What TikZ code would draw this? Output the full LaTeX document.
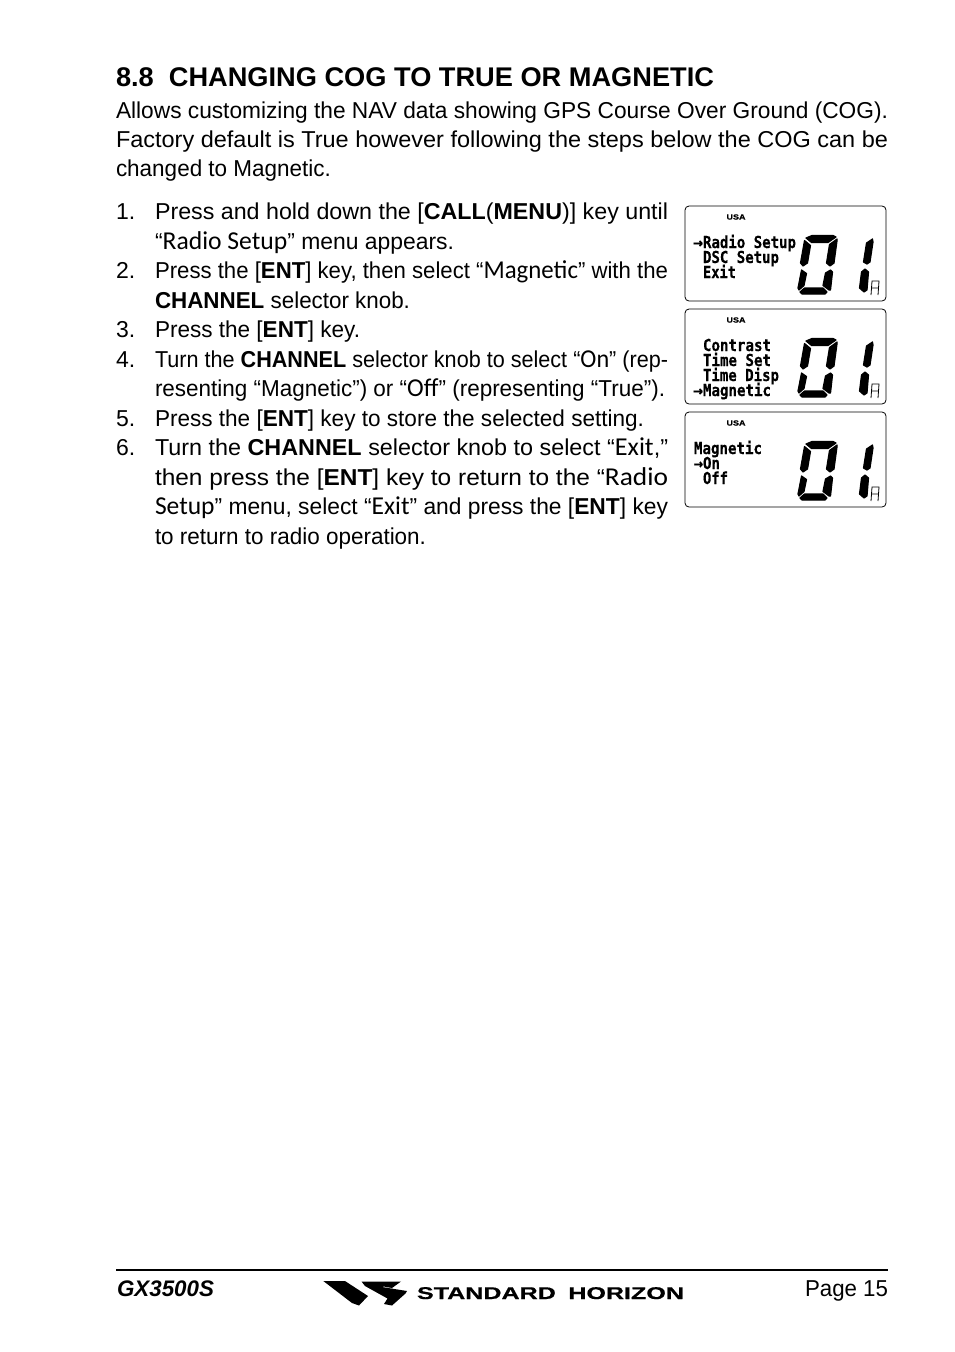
\documentclass[tikz,border=0pt]{standalone}
\usepackage{fontspec}
\usepackage{graphicx}
\setmainfont{Liberation Sans}
\newfontfamily\lcdmono[FakeBold=0.4]{DejaVu Sans Mono Bold}
\newfontfamily\logofont[FakeBold=0.5]{Liberation Sans Bold}
\newfontfamily\thinw{Carlito}[Scale=1.12]
\newcommand{\bodysize}{\fontsize{23}{27}\selectfont}
\newcommand{\fit}[2]{\resizebox{#1pt}{\height}{#2}}
\newcommand{\lw}[1]{{\thinw #1}}
\tikzset{
  txt/.style={anchor=base west,inner sep=0pt,outer sep=0pt,font=\bodysize},
  head/.style={anchor=base west,inner sep=0pt,outer sep=0pt,font=\fontsize{27}{30}\selectfont\bfseries},
  panel/.style={draw=black,line width=0.8pt,rounded corners=4pt},
  seg/.style={fill=black,draw=black,line width=1.2pt,line join=round},
  lcd/.style={anchor=base west,inner sep=0pt,outer sep=0pt,font=\fontsize{16.5}{18}\selectfont\lcdmono},
  usa/.style={anchor=center,inner sep=0pt,font=\fontsize{7.5}{8}\selectfont\logofont},
  thinseg/.style={draw=black,line width=0.8pt,fill=none}
}
\newcommand{\lcddigits}{%
  \filldraw[seg] (127,29.5)--(148,29.5)--(151,31)--(143,36.5)--(126.5,36.5)--(121,32)--cycle;
  \filldraw[seg] (119.5,34.5)--(125.5,39.5)--(122.5,57)--(118,60)--(115.5,57)--cycle;
  \filldraw[seg] (152,33)--(152,35)--(149,57)--(145,60)--(141.5,57)--(144.5,38.5)--cycle;
  \filldraw[seg] (116.5,64)--(121.5,67.5)--(119,79.5)--(114,84)--(113,82)--cycle;
  \filldraw[seg] (145.5,64)--(147.5,66)--(145.5,84)--(144,84)--(138,79.5)--(140.5,67)--cycle;
  \filldraw[seg] (115,86)--(119.5,82)--(138,82)--(142,86)--(140,88)--(117,88)--cycle;
  \filldraw[seg] (187.5,33)--(188,36)--(185,56)--(182,58)--(178.5,56)--(181.5,37)--cycle;
  \filldraw[seg] (180,63)--(183.5,66)--(182,84)--(179,86)--(174.5,82)--(176.5,66)--cycle;
  \draw[thinseg] (186,89)--(187,75)--(194,75)--(193,89) (186.5,82)--(193.5,82);
}
\begin{document}
\begin{tikzpicture}[x=1pt,y=-1pt]
\useasboundingbox (0,0) rectangle (954,1352);
\node[head] (h) at (116,86) {\fit{598}{8.8\ \ CHANGING COG TO TRUE OR MAGNETIC}};
\node[txt] (p1) at (116,118) {\fit{772}{Allows customizing the NAV data showing GPS Course Over Ground (COG).}};
\node[txt] (p2) at (116,147.5) {\fit{772}{Factory default is True however following the steps below the COG can be}};
\node[txt] (p3) at (116,176.5) {\fit{215}{changed to Magnetic.}};

\node[txt] (n1) at (116,219.5) {1.};
\node[txt] (n2) at (116,278.5) {2.};
\node[txt] (n3) at (116,337.5) {3.};
\node[txt] (n4) at (116,367) {4.};
\node[txt] (n5) at (116,426) {5.};
\node[txt] (n6) at (116,455.5) {6.};

\node[txt] (l1) at (155,219.5) {\fit{513}{Press and hold down the [\textbf{CALL}(\textbf{MENU})] key until}};
\node[txt] (l2) at (155,249) {\fit{299}{“\lw{Radio Setup}” menu appears.}};
\node[txt] (l3) at (155,278.5) {\fit{513}{Press the [\textbf{ENT}] key, then select “\lw{Magnetic}” with the}};
\node[txt] (l4) at (155,308) {\fit{255}{\textbf{CHANNEL} selector knob.}};
\node[txt] (l5) at (155,337.5) {\fit{205}{Press the [\textbf{ENT}] key.}};
\node[txt] (l6) at (155,367) {\fit{513}{Turn the \textbf{CHANNEL} selector knob to select “\lw{On}” (rep-}};
\node[txt] (l7) at (155,396.5) {\fit{510}{resenting “Magnetic”) or “\lw{Off}” (representing “True”).}};
\node[txt] (l8) at (155,426) {\fit{489}{Press the [\textbf{ENT}] key to store the selected setting.}};
\node[txt] (l9) at (155,455.5) {\fit{513}{Turn the \textbf{CHANNEL} selector knob to select “\lw{Exit},”}};
\node[txt] (l10) at (155,485) {\fit{513}{then press the [\textbf{ENT}] key to return to the “\lw{Radio}}};
\node[txt] (l11) at (155,514.5) {\fit{513}{\lw{Setup}” menu, select “\lw{Exit}” and press the [\textbf{ENT}] key}};
\node[txt] (l12) at (155,544.5) {\fit{271}{to return to radio operation.}};

% LCD panel 1
\begin{scope}[shift={(685,206)}]
  \draw[panel] (0,0) rectangle (201,95);
  \node[usa] (u1) at (51,11) {\fit{19}{USA}};
  \node[lcd] (a1) at (8,42) {\fit{10}{→}};
  \node[lcd] (a1t) at (18,42) {\fit{93}{Radio Setup}};
  \node[lcd] (a1u) at (18,57) {\fit{76}{DSC Setup}};
  \node[lcd] (a1v) at (18,72) {\fit{33}{Exit}};
  \lcddigits
\end{scope}
% LCD panel 2
\begin{scope}[shift={(685,309)}]
  \draw[panel] (0,0) rectangle (201,95);
  \node[usa] (u2) at (51,11) {\fit{19}{USA}};
  \node[lcd] (b1) at (18,42) {\fit{68}{Contrast}};
  \node[lcd] (b2) at (18,57) {\fit{68}{Time Set}};
  \node[lcd] (b3) at (18,72) {\fit{76}{Time Disp}};
  \node[lcd] (b4a) at (8,87) {\fit{10}{→}};
  \node[lcd] (b4) at (18,87) {\fit{68}{Magnetic}};
  \lcddigits
\end{scope}
% LCD panel 3
\begin{scope}[shift={(685,412)}]
  \draw[panel] (0,0) rectangle (201,95);
  \node[usa] (u3) at (51,11) {\fit{19}{USA}};
  \node[lcd] (c1) at (9,42) {\fit{68}{Magnetic}};
  \node[lcd] (c2a) at (9,57) {\fit{9}{→}};
  \node[lcd] (c2) at (18,57) {\fit{17}{On}};
  \node[lcd] (c3) at (18,72) {\fit{25}{Off}};
  \lcddigits
\end{scope}

% footer
\fill[black] (116,1269) rectangle (888,1271);
\node[txt,font=\fontsize{22.5}{26}\selectfont\bfseries\itshape] (gx) at (117,1296.5) {\fit{97}{GX3500S}};
\node[txt] (pg) at (805,1296.5) {\fit{83}{Page 15}};
% logo
\fill (323.3,1281) -- (345,1281) -- (368,1296) -- (359,1305.5) -- (352,1303) -- cycle;
\fill (361.5,1281.5) -- (401,1281.5) -- (392,1288) -- (384,1286.5) -- (382,1287) -- (407,1291) -- (405.5,1293.5) -- (392,1305.5) -- (384,1304) -- (387.5,1298.5) -- (365,1286) -- cycle;
\node[txt,font=\fontsize{17}{18}\selectfont\logofont] (sh) at (417,1299) {\fit{267}{STANDARD\hspace{0.5em}HORIZON}};
\end{tikzpicture}
\end{document}
